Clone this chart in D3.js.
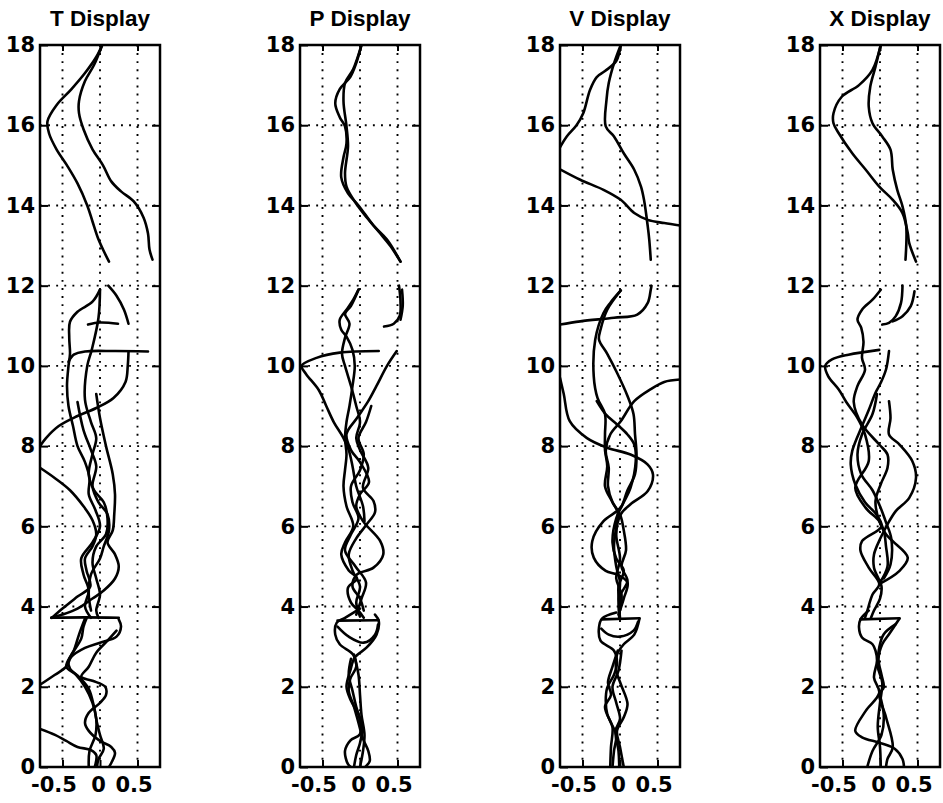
<!DOCTYPE html>
<html>
<head>
<meta charset="utf-8">
<script src="https://cdn.jsdelivr.net/npm/d3@7"></script>
<style>
  body { margin: 0; background: #fff; }
  text { font-weight: bold; fill: #000; }
  .title { font-family: "Liberation Sans", Arial, Helvetica, sans-serif; }
  .tick text { font-family: "DejaVu Sans", "Liberation Sans", sans-serif; }
</style>
</head>
<body>
<div id="viz_container"></div>
<script>
// panel titles and tick labels
const titles = ["T Display", "P Display", "V Display", "X Display"];
const yTicks = [0, 2, 4, 6, 8, 10, 12, 14, 16, 18];
const xTicks = [-0.5, 0, 0.5];
const xTickLabels = ["-0.5", "0", "0.5"];

// traced curves, each point is [value, height]
const tCurves = [
  [[0.03,18],[-0.05,17.7],[-0.2,17.3],[-0.38,16.9],[-0.58,16.5],[-0.7,16.1],[-0.68,15.8],[-0.58,15.4],[-0.44,15],[-0.3,14.55],[-0.17,14],[-0.1,13.6],[-0.03,13.2],[0.04,12.9],[0.12,12.6]],
  [[0.03,18],[-0.08,17.5],[-0.2,17.1],[-0.28,16.6],[-0.28,16.3],[-0.22,15.9],[-0.1,15.4],[0.04,15.0],[0.15,14.6],[0.28,14.35],[0.45,14.1],[0.58,13.7],[0.64,13.3],[0.66,12.9],[0.7,12.65]],
  [[0.11,12.0],[0.22,11.75],[0.32,11.4],[0.38,11.05]],
  [[-0.16,11.03],[0.0,11.08],[0.24,11.05]],
  [[0,11.9],[-0.1,11.6],[-0.3,11.35],[-0.4,11.1],[-0.41,10.7],[-0.4,10.3],[-0.42,10.0],[-0.44,9.5],[-0.42,9.0],[-0.36,8.5],[-0.3,8.0],[-0.2,7.6],[-0.14,7.2],[-0.15,6.8],[-0.06,6.4],[0.0,6.0],[-0.1,5.6],[-0.25,5.2],[-0.22,4.8],[-0.15,4.4],[-0.2,4.0],[-0.12,3.72]],
  [[0,11.9],[-0.02,11.2],[-0.11,10.4],[-0.17,10],[-0.2,9.15],[-0.12,8.6],[-0.05,8.2],[-0.1,7.8],[-0.15,7.3],[-0.08,6.9],[0.05,6.6],[0.1,6.2],[0.08,5.8],[-0.05,5.5],[-0.1,5.1],[-0.05,4.7],[0.0,4.3],[-0.05,3.9],[-0.02,3.72]],
  [[-0.42,10.1],[-0.35,10.28],[-0.2,10.36],[0.2,10.37],[0.64,10.36]],
  [[0.38,10.35],[0.37,10.0],[0.34,9.6],[0.18,9.2],[-0.05,8.95],[-0.3,8.75],[-0.55,8.5],[-0.72,8.2],[-0.8,8.0]],
  [[-0.05,9.3],[0.0,8.7],[0.08,8.0],[0.17,7.3],[0.2,6.8],[0.19,6.3],[0.17,5.9],[0.1,5.6],[0.2,5.3],[0.25,5.0],[0.2,4.7],[0.05,4.4],[-0.1,4.2],[-0.3,3.95],[-0.5,3.8],[-0.65,3.72]],
  [[-0.8,7.46],[-0.6,7.2],[-0.4,6.9],[-0.22,6.5],[-0.1,6.15],[-0.05,5.8],[-0.1,5.5],[-0.2,5.2],[-0.18,4.9],[-0.13,4.5],[-0.3,4.25],[-0.5,3.95],[-0.64,3.72]],
  [[-0.65,3.72],[-0.2,3.73],[0.25,3.72]],
  [[-0.3,9.1],[-0.22,8.4],[-0.12,7.9],[-0.05,7.5],[-0.1,7.0],[-0.02,6.6],[0.1,6.3],[0.12,5.9],[0.05,5.5],[0.0,5.2],[-0.12,4.8],[-0.15,4.3],[-0.12,3.9]],
  [[0.25,3.68],[0.28,3.5],[0.22,3.25],[0.0,3.1],[-0.2,2.97],[-0.38,2.75],[-0.45,2.5],[-0.6,2.3],[-0.8,2.05]],
  [[0.22,3.4],[0.1,3.15],[-0.05,2.85],[-0.15,2.5],[-0.25,2.25],[-0.1,2.15],[0.07,2.0],[0.08,1.8],[0.0,1.6],[-0.15,1.35],[-0.2,1.1],[-0.15,0.9],[0.0,0.65],[0.15,0.5],[0.2,0.35],[0.15,0.1],[0.12,0]],
  [[-0.2,3.7],[-0.28,3.3],[-0.35,2.9],[-0.42,2.65],[-0.4,2.45],[-0.27,2.23],[-0.15,1.95],[-0.08,1.5],[-0.04,1.1],[0.0,0.8],[0.05,0.45],[-0.02,0.2],[-0.04,0]],
  [[-0.8,0.95],[-0.6,0.8],[-0.45,0.65],[-0.3,0.5],[-0.12,0.42],[-0.05,0.3],[-0.07,0]],
  [[-0.15,0],[-0.14,0.4],[-0.06,0.8],[-0.05,1.2],[-0.1,1.6],[-0.2,2.0],[-0.32,2.3],[-0.45,2.5],[-0.38,2.8],[-0.25,3.2],[-0.22,3.5],[-0.18,3.7]]
];

const pCurves = [
  [[0.02,18],[-0.05,17.55],[-0.13,17.2],[-0.27,16.9],[-0.33,16.55],[-0.27,16.2],[-0.2,15.97],[-0.18,15.55],[-0.22,15.2],[-0.25,14.7],[-0.16,14.3],[-0.02,14],[0.18,13.5],[0.36,13.15],[0.54,12.6]],
  [[0.02,18],[-0.09,17.4],[-0.2,17.05],[-0.22,16.6],[-0.18,15.97],[-0.16,15.47],[-0.2,14.8],[-0.18,14.47],[-0.07,14.1],[0.09,13.7],[0.27,13.3],[0.4,13.0],[0.54,12.6]],
  [[-0.02,11.9],[-0.09,11.65],[-0.18,11.4],[-0.27,11.15],[-0.25,10.9],[-0.18,10.73],[-0.1,10.4],[-0.07,10],[-0.1,9.5],[-0.14,9.0],[-0.18,8.6],[-0.2,8.2],[-0.18,7.8],[-0.2,7.4],[-0.22,7.0],[-0.18,6.5],[-0.09,6.0],[-0.2,5.6],[-0.25,5.3],[-0.15,4.9],[-0.04,4.7],[-0.16,4.47],[-0.12,4.1],[-0.02,3.9],[0.05,3.72]],
  [[-0.02,11.9],[-0.12,11.5],[-0.2,11.3],[-0.14,11.05],[-0.2,10.7],[-0.24,10.3],[-0.2,10.0],[-0.12,9.5],[-0.05,9.0],[0.0,8.6],[-0.05,8.2],[0.0,7.9],[0.11,7.46],[0.04,6.96],[0.18,6.63],[0.2,6.35],[0.09,6.05],[-0.05,5.7],[-0.15,5.3],[-0.1,4.9],[0.0,4.5],[-0.05,4.1],[0.0,3.75]],
  [[0.52,12.0],[0.54,11.6],[0.53,11.25],[0.45,11.05],[0.32,10.98]],
  [[0.56,11.9],[0.57,11.5],[0.54,11.15]],
  [[0.25,10.37],[-0.27,10.33],[-0.58,10.2],[-0.78,10.0],[-0.72,9.8],[-0.55,9.4],[-0.45,9.0],[-0.35,8.6],[-0.22,8.2],[-0.15,7.9],[-0.1,7.5],[-0.05,7.0],[0.04,6.5],[0.06,6.13]],
  [[0.49,10.37],[0.36,10],[0.22,9.5],[0.11,9.12],[-0.04,8.7],[-0.18,8.3],[-0.12,7.9],[0.0,7.6],[0.12,7.1],[0.0,6.8],[-0.05,6.5],[0.04,6.13],[0.27,5.63],[0.31,5.3],[0.18,4.97],[-0.04,4.8],[-0.1,4.5],[0.0,4.2],[0.05,3.9]],
  [[0.15,9.0],[0.08,8.6],[-0.02,8.2],[0.05,7.8],[0.0,7.4],[-0.12,7.0],[-0.1,6.6],[-0.02,6.2],[-0.12,5.8],[-0.2,5.4],[-0.06,5.0],[0.08,4.6],[0.02,4.2],[-0.05,3.8]],
  [[-0.3,3.65],[0.25,3.66]],
  [[0.0,3.95],[-0.2,3.72],[-0.31,3.6],[-0.33,3.3],[-0.27,3.06],[-0.09,2.8],[-0.05,2.5],[-0.13,2.2],[-0.15,1.9],[-0.08,1.5],[-0.02,1.1],[0.04,0.7],[0.11,0.4],[0.13,0.15],[0.07,0]],
  [[0.2,3.8],[0.25,3.64],[0.22,3.3],[0.09,2.98],[-0.07,2.73],[-0.13,2.4],[-0.18,2.0],[-0.12,1.65],[-0.02,1.3],[0.0,0.82],[-0.13,0.66],[-0.2,0.4],[-0.16,0.07],[-0.12,0]],
  [[-0.3,3.5],[-0.15,3.25],[0.05,3.1],[0.2,3.3],[0.24,3.55]],
  [[-0.12,2.7],[-0.15,2.3],[-0.1,1.9],[-0.05,1.5],[0.03,1.0],[0.0,0.6],[-0.05,0.3],[-0.08,0]],
  [[-0.08,2.8],[-0.02,2.3],[0.0,1.8],[0.02,1.3],[0.06,0.8],[0.04,0.4],[0.0,0]]
];

const vCurves = [
  [[0.01,18],[-0.05,17.6],[-0.2,17.35],[-0.31,17.2],[-0.4,16.88],[-0.49,16.3],[-0.58,16.0],[-0.71,15.72],[-0.8,15.45]],
  [[0.01,18],[-0.08,17.54],[-0.15,17.05],[-0.18,16.63],[-0.19,15.97],[-0.08,15.72],[0.05,15.3],[0.19,14.89],[0.28,14.47],[0.32,14.14],[0.37,13.48],[0.39,13.15],[0.41,12.65]],
  [[-0.8,14.9],[-0.53,14.64],[-0.22,14.39],[0.01,14.14],[0.19,13.81],[0.37,13.64],[0.59,13.56],[0.8,13.5]],
  [[-0.8,11.03],[-0.53,11.11],[-0.08,11.2],[0.23,11.28],[0.37,11.57],[0.41,11.9],[0.42,12.0]],
  [[0.01,11.88],[-0.13,11.57],[-0.22,11.32],[-0.33,10.66],[-0.35,9.74],[-0.3,9.2],[-0.2,8.8],[-0.2,8.3],[-0.2,7.9],[-0.17,7.5],[-0.2,7.0],[-0.1,6.6],[-0.03,6.35],[-0.05,6.0],[-0.08,5.5],[-0.05,5.0],[0.0,4.6],[-0.02,4.2],[-0.01,3.72]],
  [[0.01,11.88],[-0.17,11.4],[-0.26,10.9],[-0.28,10.66],[-0.17,10.3],[-0.04,9.83],[0.1,9.25],[0.18,8.8],[0.2,8.3],[0.22,7.8],[0.2,7.3],[0.1,6.9],[0.02,6.5],[-0.04,6.38],[-0.22,6.13],[-0.37,5.63],[-0.35,5.22],[-0.19,4.89],[-0.04,4.8],[0.1,4.6],[0.05,4.2],[-0.02,3.8]],
  [[0.8,9.66],[0.59,9.6],[0.41,9.42],[0.19,9.12],[0.01,8.62],[-0.13,8.29],[-0.19,7.88],[-0.15,7.46],[-0.16,7.0],[-0.1,6.6],[0.0,6.3],[0.05,5.9],[0.08,5.4],[0.02,5.0],[0.1,4.64],[0.01,4.3],[-0.01,3.98],[0.0,3.72]],
  [[-0.8,9.7],[-0.75,9.3],[-0.67,8.62],[-0.44,8.2],[-0.17,7.96],[0.14,7.79],[0.37,7.54],[0.44,7.29],[0.37,6.88],[0.14,6.55],[0.01,6.3],[-0.05,5.8],[0.0,5.2],[-0.05,4.7],[0.02,4.3],[0.0,3.9]],
  [[-0.31,9.12],[-0.19,8.79],[-0.04,8.54],[0.1,8.29],[0.19,8.04],[0.21,7.63],[0.14,6.96],[0.05,6.6],[-0.05,6.2],[-0.1,5.6],[-0.05,5.2],[0.05,4.9],[-0.02,4.5],[0.0,4.0]],
  [[-0.24,3.68],[0.26,3.71]],
  [[-0.05,3.85],[-0.24,3.7],[-0.28,3.48],[-0.26,3.15],[-0.08,2.9],[-0.04,2.6],[-0.08,2.3],[-0.17,1.98],[-0.19,1.65],[-0.17,1.32],[-0.1,0.99],[-0.12,0.5],[-0.13,0]],
  [[0.26,3.7],[0.19,3.3],[0.05,3.06],[-0.04,2.8],[-0.05,2.4],[0.01,2.07],[0.1,1.57],[0.05,1.24],[-0.04,0.9],[0.0,0.5],[0.05,0]],
  [[-0.25,3.45],[-0.15,3.3],[0.0,3.25],[0.18,3.4],[0.24,3.62]],
  [[-0.03,2.9],[-0.1,2.5],[-0.16,2.1],[-0.12,1.8],[-0.2,1.5],[-0.12,1.1],[-0.05,0.8],[-0.08,0.4],[-0.1,0]],
  [[0.02,2.9],[-0.02,2.4],[-0.1,2.0],[-0.05,1.6],[0.0,1.2],[-0.06,0.9],[-0.02,0.4],[-0.01,0]]
];

const xCurves = [
  [[0.01,18],[-0.1,17.38],[-0.28,17.0],[-0.51,16.71],[-0.62,16.3],[-0.62,16.05],[-0.55,15.8],[-0.37,15.3],[-0.19,14.89],[-0.01,14.47],[0.17,14.14],[0.3,13.81],[0.37,13.31],[0.39,13.06],[0.48,12.6]],
  [[0.01,18],[-0.06,17.46],[-0.13,16.96],[-0.15,16.46],[-0.1,16.05],[0.03,15.72],[0.14,15.39],[0.17,14.89],[0.23,14.39],[0.3,13.98],[0.35,13.48],[0.34,12.65]],
  [[0.3,12.0],[0.28,11.57],[0.21,11.24],[0.12,11.07],[0.03,11.03]],
  [[0.46,11.86],[0.41,11.49],[0.3,11.24],[0.17,11.11]],
  [[0.01,11.9],[-0.1,11.65],[-0.24,11.4],[-0.3,11.15],[-0.25,10.95],[-0.22,10.6],[-0.24,10.2],[-0.2,9.9],[-0.3,9.5],[-0.35,9.1],[-0.24,8.54],[-0.01,8.04],[0.1,7.79],[0.1,7.46],[0.01,7.05],[-0.06,6.63],[-0.01,6.13],[0.08,5.8],[0.17,5.63],[0.37,5.22],[0.26,4.89],[-0.01,4.56]],
  [[-0.01,10.4],[-0.42,10.28],[-0.64,10.16],[-0.73,10.0],[-0.69,9.74],[-0.55,9.41],[-0.45,9.1],[-0.3,8.7],[-0.2,8.29],[-0.15,7.63],[-0.33,6.96],[-0.19,6.46],[-0.01,6.13],[0.05,5.9],[0.08,5.5],[0.1,5.0],[0.0,4.6]],
  [[0.12,10.37],[0.08,9.91],[0.01,9.58],[-0.06,9.33],[-0.15,8.9],[-0.24,8.5],[-0.37,7.88],[-0.39,7.54],[-0.33,7.05],[-0.2,6.6],[-0.05,6.3],[0.02,6.0],[-0.24,5.63],[-0.26,5.39],[-0.15,4.97],[-0.01,4.56],[-0.1,4.3],[-0.17,3.89],[-0.2,3.72]],
  [[0.12,9.12],[0.14,8.7],[0.12,8.29],[0.26,8.04],[0.43,7.63],[0.48,7.21],[0.39,6.71],[0.21,6.38],[0.1,6.05],[0.01,5.72],[-0.08,5.3],[-0.08,4.97],[0.02,4.5],[0.0,4.2],[-0.08,3.9],[-0.12,3.72]],
  [[-0.04,9.3],[-0.1,8.8],[-0.24,8.29],[-0.3,7.8],[-0.25,7.3],[-0.1,6.9],[0.0,6.5],[0.08,6.1],[0.15,5.7],[0.14,5.05],[0.05,4.7]],
  [[-0.26,3.68],[0.26,3.71]],
  [[-0.15,3.9],[-0.26,3.68],[-0.28,3.48],[-0.24,3.23],[-0.1,3.06],[-0.06,2.9],[-0.04,2.65],[-0.08,2.23],[-0.01,1.85],[-0.19,1.4],[-0.33,0.9],[-0.24,0.74],[0.0,0.6],[0.2,0.45],[0.3,0.2],[0.32,0]],
  [[0.26,3.7],[0.12,3.31],[0.03,3.06],[-0.02,2.7],[0.02,2.3],[0.05,1.98],[-0.01,1.82],[0.08,1.24],[0.17,0.49],[0.1,0.2],[0.08,0]],
  [[0.21,3.56],[0.05,3.31],[-0.01,2.98],[-0.03,2.5],[0.03,2.1],[0.0,1.6],[-0.03,1.0],[0.0,0.5],[0.01,0]],
  [[-0.01,1.85],[0.05,1.3],[0.02,0.8],[-0.1,0.4],[-0.17,0]]
];

const panelCurves = [tCurves, pCurves, vCurves, xCurves];

// layout of the four narrow panels
const widthAll = 943, heightAll = 803;
const panelLefts = [40, 300, 560, 820];
const panelWidth = 120;
const plotTop = 45, plotBottom = 767;
// the scanned x labels sit a little left of their ticks
const xLabelShift = [-9, -2, -4];

const svg = d3.select("#viz_container")
    .append("svg")
    .attr("width", widthAll)
    .attr("height", heightAll);

const yScale = d3.scaleLinear()
    .domain([0, 18])
    .range([plotBottom, plotTop]);

panelCurves.forEach(function (curves, i) {
    const left = panelLefts[i];
    const xScale = d3.scaleLinear()
        .domain([-0.8, 0.8])
        .range([left, left + panelWidth]);

    const g = svg.append("g");

    g.append("clipPath")
        .attr("id", "clip" + i)
        .append("rect")
        .attr("x", left)
        .attr("y", plotTop)
        .attr("width", panelWidth)
        .attr("height", plotBottom - plotTop);

    // dotted grid
    g.append("g")
        .selectAll("line")
        .data(xTicks)
        .join("line")
        .attr("x1", d => xScale(d))
        .attr("x2", d => xScale(d))
        .attr("y1", plotTop)
        .attr("y2", plotBottom)
        .attr("stroke", "#000")
        .attr("stroke-width", 1.9)
        .attr("stroke-dasharray", "1.9,6.2");
    g.append("g")
        .selectAll("line")
        .data(yTicks.slice(1, -1))
        .join("line")
        .attr("x1", left)
        .attr("x2", left + panelWidth)
        .attr("y1", d => yScale(d))
        .attr("y2", d => yScale(d))
        .attr("stroke", "#000")
        .attr("stroke-width", 1.9)
        .attr("stroke-dasharray", "1.9,6.2");

    // curves
    const line = d3.line()
        .x(d => xScale(d[0]))
        .y(d => yScale(d[1]))
        .curve(d3.curveCatmullRom.alpha(0.5));

    g.append("g")
        .attr("clip-path", `url(#clip${i})`)
        .selectAll("path")
        .data(curves)
        .join("path")
        .attr("d", line)
        .attr("fill", "none")
        .attr("stroke", "#000")
        .attr("stroke-width", 2.6)
        .attr("stroke-linejoin", "round")
        .attr("stroke-linecap", "round");

    // axes with inward ticks
    g.append("g")
        .attr("transform", `translate(${left}, 0)`)
        .call(d3.axisLeft(yScale).tickValues(yTicks).tickSize(-8).tickPadding(5))
        .call(a => a.select(".domain").remove())
        .call(a => a.selectAll("text").style("font-size", "21px").attr("fill", "#000"));
    g.append("g")
        .attr("transform", `translate(${left + panelWidth}, 0)`)
        .call(d3.axisRight(yScale).tickValues(yTicks.slice(1, -1)).tickSize(-8).tickFormat(""))
        .call(a => a.select(".domain").remove());
    g.append("g")
        .attr("transform", `translate(0, ${plotBottom})`)
        .call(d3.axisBottom(xScale).tickValues(xTicks).tickSize(-7).tickPadding(10).tickFormat((d, k) => xTickLabels[k]))
        .call(a => a.select(".domain").remove())
        .call(a => a.selectAll("text").style("font-size", "21px").attr("fill", "#000").attr("dx", (d, k) => xLabelShift[k]));
    g.append("g")
        .attr("transform", `translate(0, ${plotTop})`)
        .call(d3.axisTop(xScale).tickValues(xTicks).tickSize(-6).tickFormat(""))
        .call(a => a.select(".domain").remove());
    g.selectAll(".tick line").attr("stroke", "#000").attr("stroke-width", 2);

    // frame
    g.append("rect")
        .attr("x", left)
        .attr("y", plotTop)
        .attr("width", panelWidth)
        .attr("height", plotBottom - plotTop)
        .attr("fill", "none")
        .attr("stroke", "#000")
        .attr("stroke-width", 2.5);

    // title
    g.append("text")
        .attr("class", "title")
        .attr("x", left + panelWidth / 2)
        .attr("y", 26)
        .attr("text-anchor", "middle")
        .style("font-size", "22.5px")
        .text(titles[i]);
});
</script>
</body>
</html>
